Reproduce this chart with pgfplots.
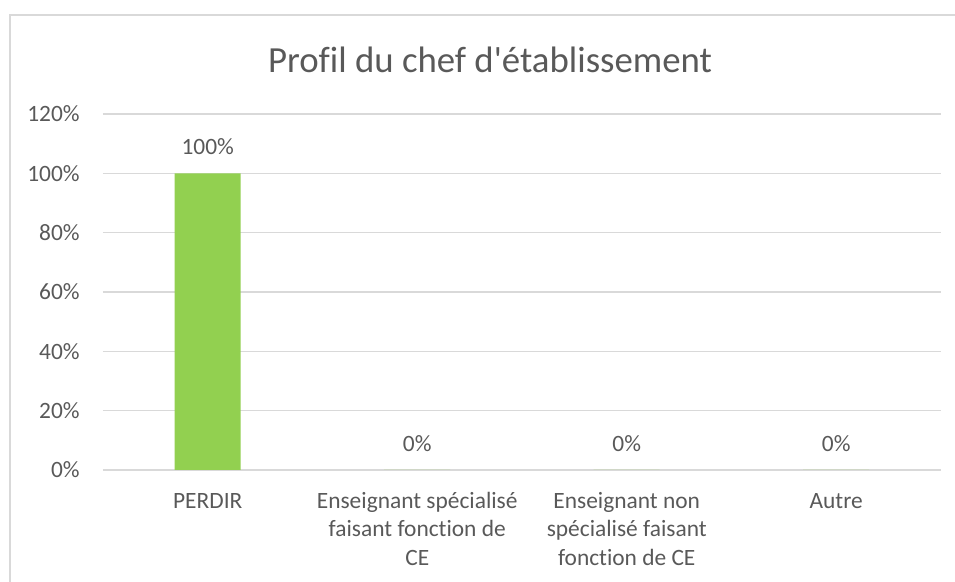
\documentclass[border=0pt]{standalone}
\usepackage{pgfplots}
\pgfplotsset{compat=1.18}
\usepackage{fontspec}
\setmainfont{Carlito}[Ligatures={NoCommon}]
\definecolor{txt}{HTML}{595959}
\definecolor{gridc}{HTML}{D9D9D9}
\definecolor{barg}{HTML}{92D050}
\begin{document}
\begin{tikzpicture}
\useasboundingbox (0,0) rectangle (477.5pt,291pt);
\begin{scope}
\clip (0,0) rectangle (477.5pt,291pt);
\draw[gridc, line width=0.6pt] (5pt,283.5pt) rectangle (490pt,-10pt);
\end{scope}
\node[anchor=base, text=txt, font=\fontsize{18.4}{22}\selectfont, inner sep=0pt] at (245pt,254.5pt) {Profil du chef d\textquotesingle établissement};
\begin{axis}[
  at={(51.5pt,56pt)}, anchor=south west,
  scale only axis, width=419pt, height=178pt,
  xmin=-0.5, xmax=3.5, ymin=0, ymax=120,
  /pgf/number format/assume math mode=true,
  axis line style={draw=none},
  tick style={draw=none},
  ymajorgrids, major grid style={gridc, line width=0.6pt},
  ytick={0,20,40,60,80,100,120},
  yticklabels={0\%,20\%,40\%,60\%,80\%,100\%,120\%},
  yticklabel style={anchor=east, inner sep=0pt, xshift=-11.5pt, text depth=0pt, text=txt, font=\fontsize{11.7}{14.25}\selectfont},
  xtick={0,1,2,3},
  xticklabels={{\rule{0pt}{10pt}PERDIR},{\rule{0pt}{10pt}Enseignant spécialisé\\faisant fonction de\\CE},{\rule{0pt}{10pt}Enseignant non\\spécialisé faisant\\fonction de CE},{\rule{0pt}{10pt}Autre}},
  xticklabel style={anchor=north, align=center, inner sep=0pt, yshift=-9pt, text=txt, font=\fontsize{11.7}{14.25}\selectfont},
  nodes near coords={\pgfmathprintnumber{\pgfplotspointmeta}\%},
  every node near coord/.append style={anchor=south, inner sep=0pt, yshift=9pt, text depth=0pt, text=txt, font=\fontsize{11.7}{14.25}\selectfont},
]
\addplot[ybar, bar width=33pt, fill=barg, draw=none] coordinates {(0,100) (1,0) (2,0) (3,0)};
\end{axis}
\end{tikzpicture}
\end{document}
